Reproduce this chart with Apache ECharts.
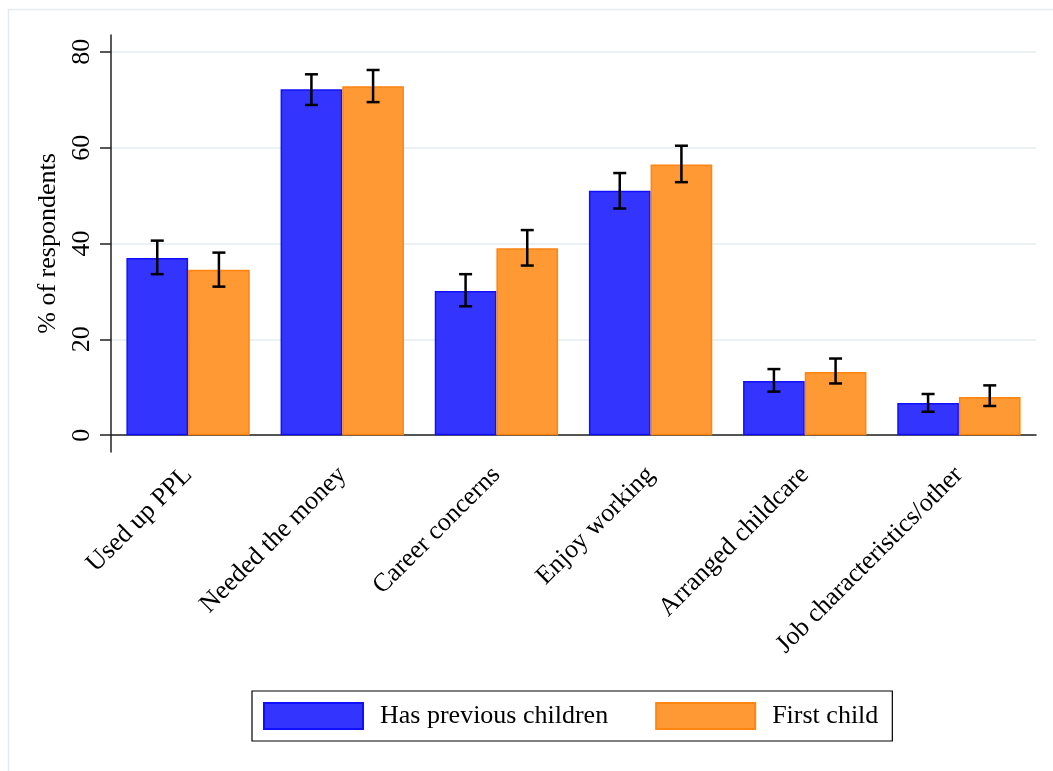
<!DOCTYPE html>
<html>
<head>
<meta charset="utf-8">
<script src="https://cdn.jsdelivr.net/npm/echarts@6/dist/echarts.min.js"></script>
<style>html,body{margin:0;padding:0;background:#fff;}#chart{width:1053px;height:771px;}</style>
</head>
<body>
<div id="chart"></div>
<script>
const categories = ['Used up PPL', 'Needed the money', 'Career concerns', 'Enjoy working', 'Arranged childcare', 'Job characteristics/other'];
const seriesNames = ['Has previous children', 'First child'];
const prevValues = [37.0, 72.2, 30.1, 51.0, 11.3, 6.7];
const prevLow    = [33.6, 68.9, 26.9, 47.3, 9.1, 4.9];
const prevHigh   = [40.6, 75.3, 33.6, 54.7, 13.8, 8.6];
const firstValues = [34.5, 72.8, 39.0, 56.5, 13.2, 8.0];
const firstLow    = [31.0, 69.5, 35.4, 52.8, 10.8, 6.1];
const firstHigh   = [38.1, 76.2, 42.8, 60.4, 16.0, 10.4];
const yTicks = [0, 20, 40, 60, 80];

const FONT = 'Liberation Serif';
const chart = echarts.init(document.getElementById('chart'));

function errSeries(low, high, sign) {
  return {
    type: 'custom',
    z: 10,
    silent: true,
    data: low.map((l, i) => [i, l, high[i]]),
    encode: { x: 0, y: [1, 2] },
    renderItem: function (params, api) {
      const i = api.value(0);
      const band = api.size([1, 0])[0];
      const off = band * 0.2 * sign;
      const pLo = api.coord([i, api.value(1)]);
      const pHi = api.coord([i, api.value(2)]);
      const cx = pLo[0] + off;
      const cap = 6.5;
      const st = { stroke: '#000', lineWidth: 2.5 };
      return {
        type: 'group',
        children: [
          { type: 'line', shape: { x1: cx, y1: pLo[1], x2: cx, y2: pHi[1] }, style: st },
          { type: 'line', shape: { x1: cx - cap, y1: pLo[1], x2: cx + cap, y2: pLo[1] }, style: st },
          { type: 'line', shape: { x1: cx - cap, y1: pHi[1], x2: cx + cap, y2: pHi[1] }, style: st }
        ]
      };
    }
  };
}

chart.setOption({
  animation: false,
  backgroundColor: '#fff',
  textStyle: { fontFamily: FONT, color: '#000' },
  graphic: [{
    type: 'rect', left: 6, top: 7, silent: true,
    shape: { x: 0.5, y: 0.5, width: 1060, height: 780 },
    style: { fill: 'none', stroke: '#e3ebee', lineWidth: 1.5 }
  }],
  grid: { left: 111, right: 17, top: 35, bottom: 319, containLabel: false },
  legend: {
    data: seriesNames,
    left: 252, top: 691,
    orient: 'horizontal',
    itemWidth: 99, itemHeight: 26,
    itemGap: 47,
    padding: [11, 14, 11, 11],
    borderColor: '#000', borderWidth: 1.2,
    icon: 'rect',
    textStyle: { fontFamily: FONT, fontSize: 26, color: '#000', padding: [0, 0, 0, 12], lineHeight: 26 }
  },
  xAxis: {
    type: 'category',
    data: categories,
    boundaryGap: true,
    axisLine: { lineStyle: { color: '#222', width: 1.5 } },
    axisTick: { alignWithLabel: true, length: 10, lineStyle: { color: '#222', width: 1.5 } },
    axisLabel: { rotate: 45, margin: 19, fontFamily: FONT, fontSize: 26, color: '#000', interval: 0 },
    splitLine: { show: false }
  },
  yAxis: {
    type: 'value',
    min: -3.5, max: 83.5,
    name: '% of respondents',
    nameLocation: 'middle',
    nameRotate: 90,
    nameGap: 46,
    nameTextStyle: { fontFamily: FONT, fontSize: 26, color: '#000' },
    axisLine: { show: true, lineStyle: { color: '#222', width: 1.5 } },
    axisTick: { show: true, length: 11, customValues: yTicks, lineStyle: { color: '#222', width: 1.5 } },
    axisLabel: { rotate: 90, margin: 16, customValues: yTicks, fontFamily: FONT, fontSize: 26, color: '#000' },
    splitLine: { show: true, lineStyle: { color: '#eaf1f3', width: 2 } }
  },
  series: [
    {
      name: seriesNames[0], type: 'bar', data: prevValues,
      barGap: '0%', barCategoryGap: '20%',
      itemStyle: { color: '#3434ff', borderColor: '#1010ff', borderWidth: 1.5 }
    },
    {
      name: seriesNames[1], type: 'bar', data: firstValues,
      barGap: '0%', barCategoryGap: '20%',
      itemStyle: { color: '#ff9933', borderColor: '#ff8410', borderWidth: 1.5 }
    },
    errSeries(prevLow, prevHigh, -1),
    errSeries(firstLow, firstHigh, 1)
  ]
});
</script>
</body>
</html>
